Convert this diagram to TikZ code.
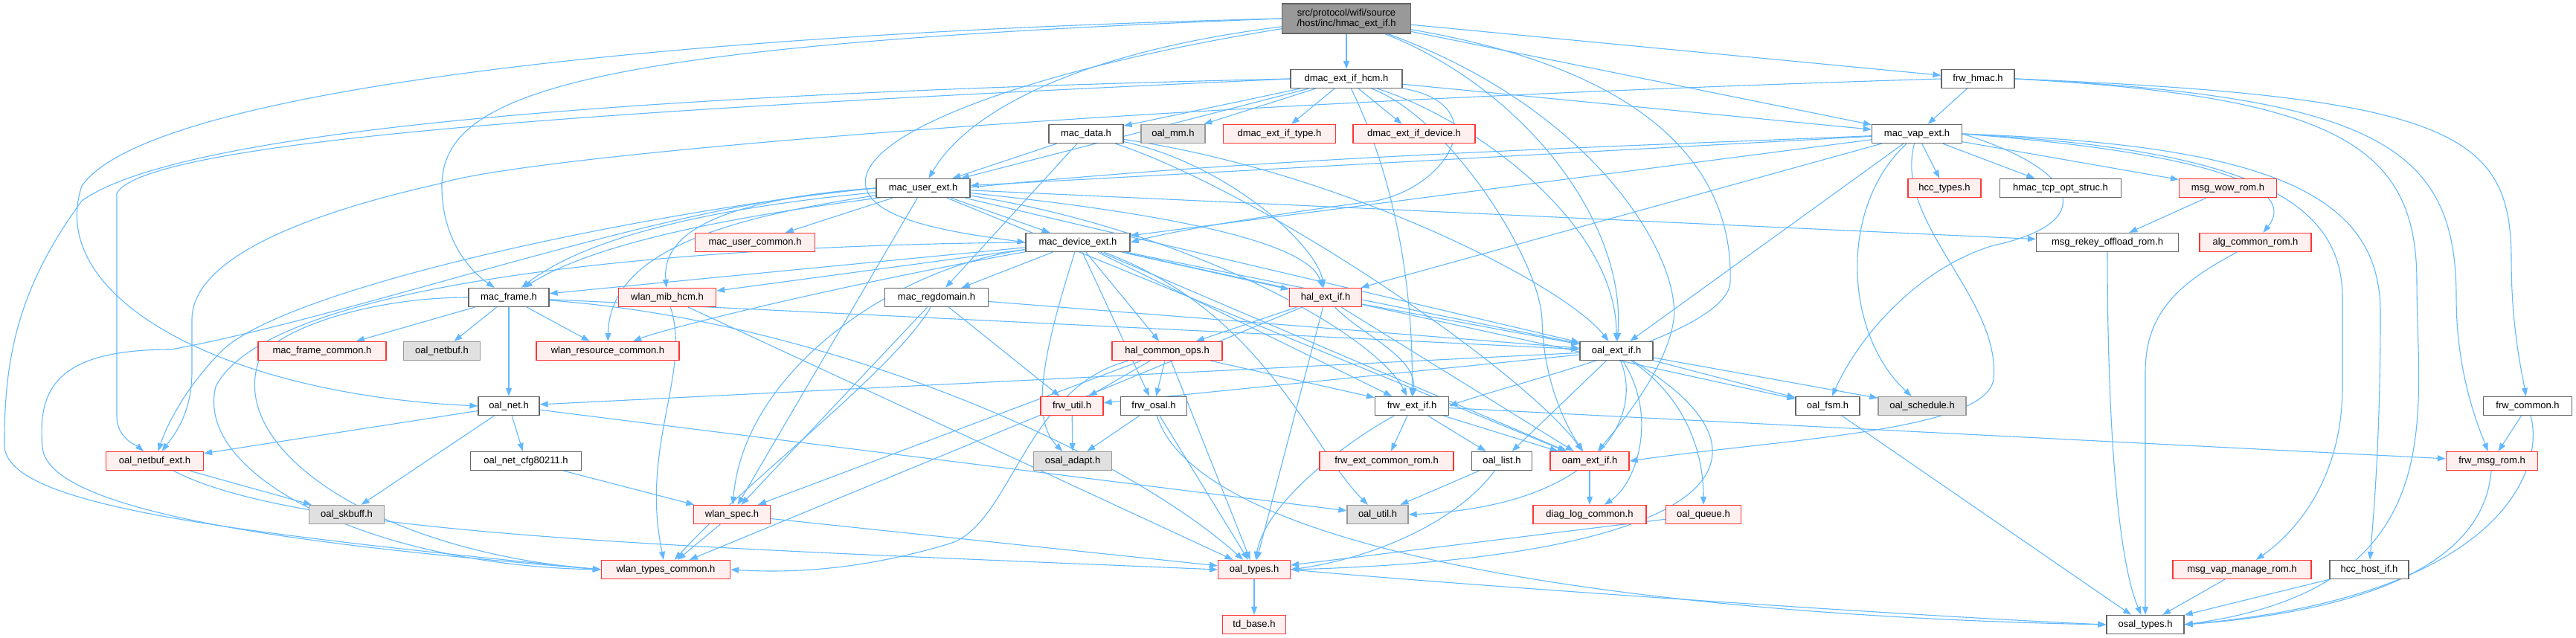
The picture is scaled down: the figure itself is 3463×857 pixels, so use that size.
\documentclass[tikz,border=0pt]{standalone}
\usepackage{fontspec}
\setmainfont{Liberation Sans}
\usetikzlibrary{arrows.meta}

\definecolor{edgeblue}{HTML}{63B8FF}
\definecolor{boxgray}{HTML}{666666}
\definecolor{redfill}{HTML}{FFF0F0}
\definecolor{redline}{HTML}{FF3333}
\definecolor{extfill}{HTML}{E0E0E0}
\definecolor{extline}{HTML}{999999}
\definecolor{rootfill}{HTML}{999999}

\pgfdeclarelayer{edges}
\pgfsetlayers{edges,main}

\begin{document}
\begin{tikzpicture}[x=1pt, y=-1pt,
		hdr/.style = {draw=boxgray, fill=white, line width=1.3pt, minimum height=25pt,
			inner sep=0pt, font=\fontsize{13}{15}\selectfont},
		redhdr/.style = {hdr, draw=redline, fill=redfill},
		sysextern/.style = {hdr, draw=extline, fill=extfill},
		dep/.style = {draw=edgeblue, line width=1.1pt, -{Triangle[length=11pt, width=8pt]}}]
	
		\useasboundingbox (0,0) rectangle (3463,857);
		
		% Root file
		\node[hdr, fill=rootfill, minimum width=173, minimum height=40, align=center,
			font=\fontsize{13}{14}\selectfont] (root) at (1810,25)
			{src/protocol/wifi/source\\/host/inc/hmac\_ext\_if.h};
		
		% Rank 1 and 2
		\node[hdr, minimum width=150] (dmachcm) at (1810,106) {dmac\_ext\_if\_hcm.h};
		\node[hdr, minimum width=98] (frwhmac) at (2659,106) {frw\_hmac.h};
		\node[hdr, minimum width=100] (macdata) at (1460,180) {mac\_data.h};
		\node[sysextern, minimum width=86] (oalmm) at (1577,180) {oal\_mm.h};
		\node[redhdr, minimum width=151] (dmactype) at (1720,180) {dmac\_ext\_if\_type.h};
		\node[redhdr, minimum width=164] (dmacdevice) at (1901,180) {dmac\_ext\_if\_device.h};
		\node[hdr, minimum width=121] (macvapext) at (2577,180) {mac\_vap\_ext.h};
		
		% Rank 3 and 4
		\node[hdr, minimum width=126] (macuserext) at (1241,253) {mac\_user\_ext.h};
		\node[redhdr, minimum width=98] (hcctypes) at (2614,253) {hcc\_types.h};
		\node[hdr, minimum width=163] (hmactcp) at (2770,253) {hmac\_tcp\_opt\_struc.h};
		\node[redhdr, minimum width=131] (msgwow) at (2995,253) {msg\_wow\_rom.h};
		\node[redhdr, minimum width=161] (macusercommon) at (1015,326) {mac\_user\_common.h};
		\node[hdr, minimum width=140] (macdeviceext) at (1449,326) {mac\_device\_ext.h};
		\node[hdr, minimum width=191] (msgrekey) at (2833,326) {msg\_rekey\_offload\_rom.h};
		\node[redhdr, minimum width=150] (algcommon) at (3032,326) {alg\_common\_rom.h};
		
		% Rank 5 and 6
		\node[hdr, minimum width=108] (macframe) at (684,400) {mac\_frame.h};
		\node[redhdr, minimum width=131] (wlanmib) at (897,400) {wlan\_mib\_hcm.h};
		\node[hdr, minimum width=139] (macregdomain) at (1259,400) {mac\_regdomain.h};
		\node[redhdr, minimum width=97] (halextif) at (1782,400) {hal\_ext\_if.h};
		\node[redhdr, minimum width=172] (macframecommon) at (433,472) {mac\_frame\_common.h};
		\node[sysextern, minimum width=103] (oalnetbuf) at (594,472) {oal\_netbuf.h};
		\node[redhdr, minimum width=192] (wlanresource) at (817,472) {wlan\_resource\_common.h};
		\node[redhdr, minimum width=148] (halcommonops) at (1569,472) {hal\_common\_ops.h};
		\node[hdr, minimum width=98] (oalextif) at (2173,472) {oal\_ext\_if.h};
		
		% Rank 7 and 8
		\node[hdr, minimum width=82] (oalnet) at (684,546) {oal\_net.h};
		\node[redhdr, minimum width=84] (frwutil) at (1441,546) {frw\_util.h};
		\node[hdr, minimum width=89] (frwosal) at (1551,546) {frw\_osal.h};
		\node[hdr, minimum width=99] (frwextif) at (1898,546) {frw\_ext\_if.h};
		\node[hdr, minimum width=86] (oalfsm) at (2457,546) {oal\_fsm.h};
		\node[sysextern, minimum width=118] (oalschedule) at (2584,546) {oal\_schedule.h};
		\node[hdr, minimum width=119] (frwcommon) at (3398,546) {frw\_common.h};
		\node[redhdr, minimum width=131] (oalnetbufext) at (208,620) {oal\_netbuf\_ext.h};
		\node[hdr, minimum width=149] (oalnetcfg) at (707,620) {oal\_net\_cfg80211.h};
		\node[sysextern, minimum width=105] (osaladapt) at (1442,620) {osal\_adapt.h};
		\node[redhdr, minimum width=180] (frwextcommon) at (1864,620) {frw\_ext\_common\_rom.h};
		\node[hdr, minimum width=81] (oallist) at (2019,620) {oal\_list.h};
		\node[redhdr, minimum width=106] (oamextif) at (2137,620) {oam\_ext\_if.h};
		\node[redhdr, minimum width=123] (frwmsgrom) at (3350,620) {frw\_msg\_rom.h};
		
		% Rank 9 to 11
		\node[sysextern, minimum width=101] (oalskbuff) at (466,692) {oal\_skbuff.h};
		\node[redhdr, minimum width=103] (wlanspec) at (984,692) {wlan\_spec.h};
		\node[sysextern, minimum width=82] (oalutil) at (1852,692) {oal\_util.h};
		\node[redhdr, minimum width=152] (diaglog) at (2137,692) {diag\_log\_common.h};
		\node[redhdr, minimum width=101] (oalqueue) at (2290,692) {oal\_queue.h};
		\node[redhdr, minimum width=173] (wlantypes) at (895,766) {wlan\_types\_common.h};
		\node[redhdr, minimum width=97] (oaltypes) at (1686,766) {oal\_types.h};
		\node[redhdr, minimum width=186] (msgvapmanage) at (3014,766) {msg\_vap\_manage\_rom.h};
		\node[hdr, minimum width=106] (hcchostif) at (3185,766) {hcc\_host\_if.h};
		\node[redhdr, minimum width=85] (tdbase) at (1686,840) {td\_base.h};
		\node[hdr, minimum width=104] (osaltypes) at (2884,840) {osal\_types.h};
		
		\begin{pgfonlayer}{edges}
		
		% Includes of the root file
		\draw[dep] (root) -- (dmachcm);
		\draw[dep] (root) -- (frwhmac);
		\draw[dep] (root) -- (macvapext);
		\draw[dep] (root.west) .. controls (900,45) and (200,120) .. (110,250) .. controls (60,400) and (300,530) .. (oalnet.west);
		\draw[dep] (root.west) .. controls (800,60) and (594,120) .. (594,250) .. controls (594,330) and (640,370) .. (macframe);
		\draw[dep] (root) .. controls (1450,70) and (1300,150) .. (macuserext);
		\draw[dep] (root) .. controls (1400,90) and (1140,180) .. (1165,255) .. controls (1180,300) and (1300,315) .. (macdeviceext.west);
		\draw[dep] (root) .. controls (2050,120) and (2187,300) .. (oalextif);
		\draw[dep] (root) .. controls (2250,100) and (2330,250) .. (2326,380) .. controls (2320,450) and (2050,510) .. (frwextif.east);
		\draw[dep] (root) .. controls (2150,150) and (2260,350) .. (2250,430) .. controls (2240,500) and (2170,580) .. (oamextif);
		
		% dmac_ext_if_hcm.h
		\draw[dep] (dmachcm) -- (macdata);
		\draw[dep] (dmachcm) -- (oalmm);
		\draw[dep] (dmachcm) -- (dmactype);
		\draw[dep] (dmachcm) -- (dmacdevice);
		\draw[dep] (dmachcm) -- (macvapext);
		\draw[dep] (dmachcm) -- (macuserext);
		\draw[dep] (dmachcm.west) .. controls (900,125) and (250,170) .. (110,270) .. controls (30,380) and (5,470) .. (6,600) .. controls (10,680) and (300,715) .. (wlantypes.west);
		\draw[dep] (dmachcm.west) .. controls (1000,140) and (200,180) .. (157,260) -- (157,560) .. controls (157,590) and (185,600) .. (oalnetbufext);
		\draw[dep] (dmachcm) .. controls (2010,140) and (1950,250) .. (1850,270) .. controls (1700,290) and (1580,310) .. (macdeviceext.east);
		\draw[dep] (dmachcm) .. controls (1980,160) and (2173,300) .. (oalextif);
		\draw[dep] (dmachcm) .. controls (1950,160) and (2070,350) .. (2073,430) .. controls (2075,520) and (2110,580) .. (oamextif);
		\draw[dep] (dmachcm) .. controls (1880,250) and (1900,400) .. (frwextif);
		
		% frw_hmac.h
		\draw[dep] (frwhmac) -- (macvapext);
		\draw[dep] (frwhmac.east) .. controls (3300,130) and (3376,180) .. (3376,350) .. controls (3376,440) and (3390,500) .. (frwcommon);
		\draw[dep] (frwhmac.east) .. controls (3200,130) and (3302,200) .. (3302,400) .. controls (3302,500) and (3330,570) .. (frwmsgrom);
		\draw[dep] (frwhmac.east) .. controls (3150,130) and (3249,200) .. (3249,380) .. controls (3249,560) and (3300,790) .. (osaltypes.east);
		\draw[dep] (frwhmac.west) .. controls (1500,140) and (700,210) .. (591,247) .. controls (400,290) and (258,350) .. (258,430) -- (258,500) .. controls (258,560) and (230,590) .. (oalnetbufext);
		
		% mac_data.h
		\draw[dep] (macdata) -- (macuserext);
		\draw[dep] (macdata) -- (macregdomain);
		\draw[dep] (macdata) .. controls (1650,220) and (1770,330) .. (halextif);
		\draw[dep] (macdata) .. controls (1800,230) and (2100,380) .. (oalextif);
		\draw[dep] (macdata) .. controls (1700,260) and (2050,500) .. (oamextif);
		
		% mac_vap_ext.h
		\draw[dep] (macvapext) -- (macuserext);
		\draw[dep] (macvapext) -- (macdeviceext);
		\draw[dep] (macvapext) .. controls (2000,205) and (950,230) .. (macframe);
		\draw[dep] (macvapext) -- (halextif);
		\draw[dep] (macvapext) -- (hcctypes);
		\draw[dep] (macvapext) -- (hmactcp);
		\draw[dep] (macvapext) -- (msgwow);
		\draw[dep] (macvapext.east) .. controls (2900,200) and (3100,240) .. (algcommon);
		\draw[dep] (macvapext.east) .. controls (3000,200) and (3149,260) .. (3149,400) -- (3149,520) .. controls (3149,650) and (3080,720) .. (msgvapmanage);
		\draw[dep] (macvapext.east) .. controls (3050,195) and (3200,260) .. (3200,420) .. controls (3200,600) and (3190,700) .. (hcchostif);
		\draw[dep] (macvapext.east) .. controls (2800,230) and (2820,300) .. (2680,330) .. controls (2580,360) and (2500,450) .. (oalfsm);
		\draw[dep] (macvapext) .. controls (2470,280) and (2480,450) .. (oalschedule);
		\draw[dep] (macvapext) .. controls (2545,300) and (2690,400) .. (2680,510) .. controls (2670,580) and (2400,590) .. (oamextif.east);
		\draw[dep] (macvapext) -- (oalextif);
		
		% mac_user_ext.h
		\draw[dep] (macuserext) -- (macusercommon);
		\draw[dep] (macuserext) -- (macdeviceext);
		\draw[dep] (macuserext) .. controls (1000,275) and (800,310) .. (macframe);
		\draw[dep] (macuserext.west) .. controls (950,270) and (890,320) .. (wlanmib);
		\draw[dep] (macuserext) .. controls (1000,290) and (820,330) .. (wlanresource);
		\draw[dep] (macuserext.west) .. controls (900,280) and (400,380) .. (300,470) .. controls (250,520) and (225,570) .. (oalnetbufext);
		\draw[dep] (macuserext.west) .. controls (900,270) and (500,420) .. (230,470) .. controls (80,470) and (50,520) .. (57,600) .. controls (60,700) and (500,740) .. (wlantypes.west);
		\draw[dep] (macuserext) -- (wlanspec);
		\draw[dep] (macuserext) -- (msgrekey);
		\draw[dep] (macuserext) .. controls (1600,290) and (1760,330) .. (halextif);
		\draw[dep] (macuserext) -- (oalextif);
		\draw[dep] (macuserext) .. controls (1600,310) and (1850,450) .. (frwextif);
		\draw[dep] (macuserext) -- (oamextif);
		
		% mac_device_ext.h
		\draw[dep] (macdeviceext) -- (macframe);
		\draw[dep] (macdeviceext) -- (wlanmib);
		\draw[dep] (macdeviceext) .. controls (1131,383) and (900,440) .. (wlanresource);
		\draw[dep] (macdeviceext) .. controls (1200,360) and (1000,500) .. (wlanspec);
		\draw[dep] (macdeviceext.west) .. controls (900,330) and (360,380) .. (290,520) .. controls (260,640) and (500,760) .. (wlantypes.west);
		\draw[dep] (macdeviceext) -- (macregdomain);
		\draw[dep] (macdeviceext) -- (halextif);
		\draw[dep] (macdeviceext) -- (halcommonops);
		\draw[dep] (macdeviceext) .. controls (1410,450) and (1380,560) .. (osaladapt);
		\draw[dep] (macdeviceext) -- (frwosal);
		\draw[dep] (macdeviceext) -- (frwextif);
		\draw[dep] (macdeviceext) -- (oalextif);
		\draw[dep] (macdeviceext) -- (oamextif);
		\draw[dep] (macdeviceext) -- (oalfsm);
		\draw[dep] (macdeviceext) .. controls (1700,420) and (1760,600) .. (oalutil);
		
		% msg_wow_rom.h
		\draw[dep] (msgwow) -- (msgrekey);
		
		% mac_frame.h
		\draw[dep] (macframe) -- (macframecommon);
		\draw[dep] (macframe) -- (oalnetbuf);
		\draw[dep] (macframe) -- (wlanresource);
		\draw[dep] (macframe) -- (oalnet);
		\draw[dep] (macframe) -- (oalextif);
		\draw[dep] (macframe.west) .. controls (500,400) and (380,440) .. (350,480) .. controls (300,600) and (500,740) .. (wlantypes.west);
		\draw[dep] (macframe) .. controls (1100,430) and (1500,600) .. (oaltypes);
		
		% wlan_mib_hcm.h and mac_regdomain.h
		\draw[dep] (wlanmib) .. controls (930,500) and (860,600) .. (wlantypes);
		\draw[dep] (wlanmib) -- (oaltypes);
		\draw[dep] (macregdomain) -- (wlanspec);
		\draw[dep] (macregdomain) .. controls (1200,500) and (1000,650) .. (wlantypes);
		\draw[dep] (macregdomain) -- (frwutil);
		\draw[dep] (macregdomain) -- (oalextif);
		
		% hal_ext_if.h and hal_common_ops.h
		\draw[dep] (halextif) -- (halcommonops);
		\draw[dep] (halextif) -- (oalextif);
		\draw[dep] (halextif) .. controls (1830,450) and (1905,480) .. (frwextif);
		\draw[dep] (halextif) -- (oamextif);
		\draw[dep] (halextif) -- (wlantypes);
		\draw[dep] (halextif) -- (oaltypes);
		\draw[dep] (halcommonops) -- (frwutil);
		\draw[dep] (halcommonops) -- (frwosal);
		\draw[dep] (halcommonops) -- (oaltypes);
		\draw[dep] (halcommonops) -- (frwextif);
		\draw[dep] (halcommonops) -- (wlanspec);
		\draw[dep] (halcommonops) .. controls (1380,520) and (1360,700) .. (1280,730) .. controls (1150,770) and (1050,770) .. (wlantypes.east);
		
		% oal_ext_if.h
		\draw[dep] (oalextif) -- (oalnet);
		\draw[dep] (oalextif) -- (frwutil);
		\draw[dep] (oalextif) -- (oalfsm);
		\draw[dep] (oalextif) -- (oalschedule);
		\draw[dep] (oalextif) -- (oallist);
		\draw[dep] (oalextif) .. controls (2230,560) and (2200,650) .. (diaglog);
		\draw[dep] (oalextif) .. controls (2260,530) and (2290,600) .. (oalqueue);
		\draw[dep] (oalextif) .. controls (2210,560) and (2150,680) .. (oalutil.east);
		\draw[dep] (oalextif) .. controls (2420,620) and (2300,750) .. (oaltypes.east);
		
		% frw_common.h and the oal_net.h family
		\draw[dep] (frwcommon) -- (frwmsgrom);
		\draw[dep] (frwcommon) .. controls (3420,620) and (3380,800) .. (osaltypes.east);
		\draw[dep] (oalnet) -- (oalnetbufext);
		\draw[dep] (oalnet) -- (oalnetcfg);
		\draw[dep] (oalnet) -- (oalskbuff);
		\draw[dep] (oalnet) -- (oalutil);
		\draw[dep] (oalnetbufext) -- (oalskbuff);
		\draw[dep] (oalnetbufext) .. controls (400,720) and (900,735) .. (oaltypes.west);
		\draw[dep] (oalnetcfg) -- (wlanspec);
		
		% frw layer
		\draw[dep] (frwutil) -- (osaladapt);
		\draw[dep] (frwosal) -- (osaladapt);
		\draw[dep] (frwosal) -- (oaltypes);
		\draw[dep] (frwosal) .. controls (1620,760) and (2300,830) .. (osaltypes.west);
		\draw[dep] (frwextif) -- (frwextcommon);
		\draw[dep] (frwextif) -- (oallist);
		\draw[dep] (frwextif) -- (oamextif);
		\draw[dep] (frwextif) .. controls (1800,600) and (1700,680) .. (oaltypes);
		\draw[dep] (frwextif) -- (frwmsgrom);
		
		% Lower levels
		\draw[dep] (oallist) -- (oalutil);
		\draw[dep] (oallist) .. controls (1960,700) and (1850,750) .. (oaltypes.east);
		\draw[dep] (oamextif) -- (diaglog);
		\draw[dep] (oalqueue) -- (oaltypes);
		\draw[dep] (wlanspec) -- (wlantypes);
		\draw[dep] (wlanspec) -- (oaltypes);
		\draw[dep] (oaltypes) -- (tdbase);
		\draw[dep] (oaltypes.east) .. controls (2000,790) and (2600,830) .. (osaltypes.west);
		\draw[dep] (oalfsm) -- (osaltypes);
		\draw[dep] (msgrekey) .. controls (2833,600) and (2850,760) .. (osaltypes);
		\draw[dep] (algcommon) .. controls (2930,380) and (2884,420) .. (2884,500) -- (osaltypes);
		\draw[dep] (msgvapmanage) -- (osaltypes);
		\draw[dep] (hcchostif) -- (osaltypes);
		\draw[dep] (frwmsgrom) .. controls (3340,750) and (3200,820) .. (osaltypes.east);
		
		\end{pgfonlayer}
		
	\end{tikzpicture}
\end{document}
